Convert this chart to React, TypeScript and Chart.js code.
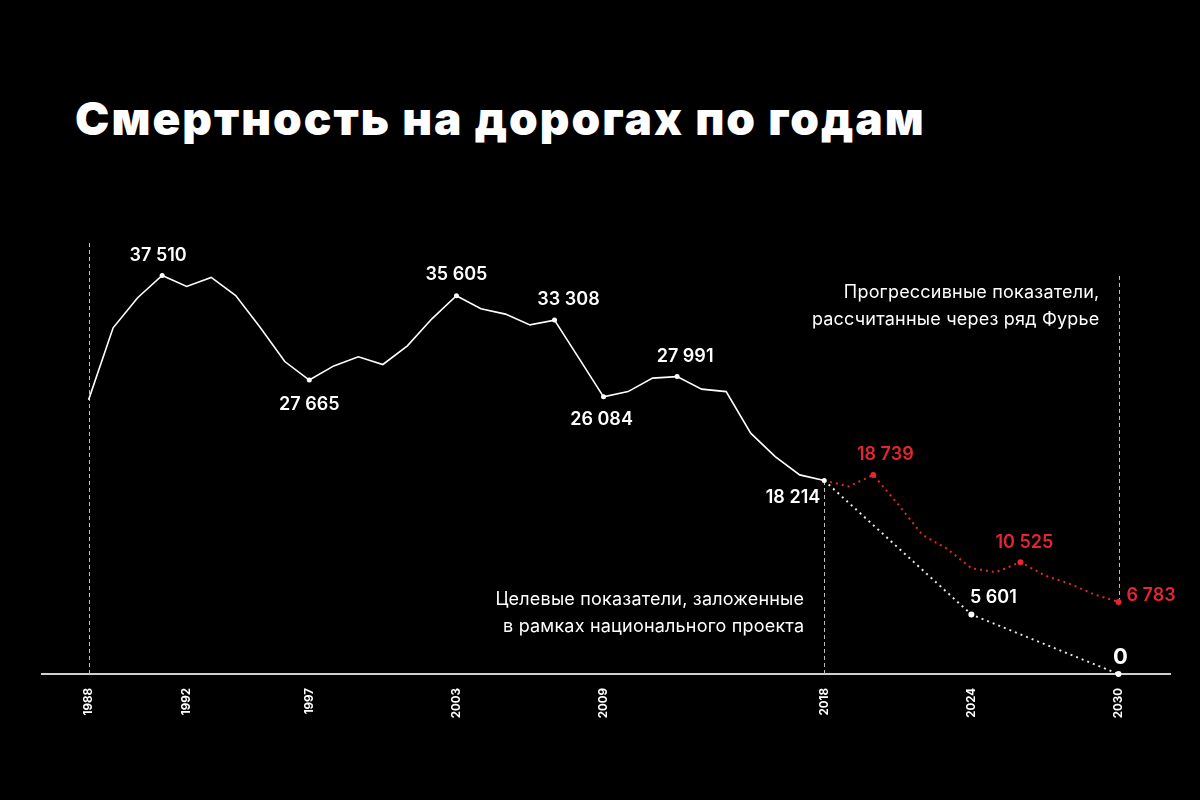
import { useEffect, useRef } from "react";
import Chart from "chart.js/auto";

// фактические данные, 1988–2018
const HIST_YEARS = [
  1988, 1989, 1990, 1991, 1992, 1993, 1994, 1995, 1996, 1997, 1998,
  1999, 2000, 2001, 2002, 2003, 2004, 2005, 2006, 2007, 2008, 2009,
  2010, 2011, 2012, 2013, 2014, 2015, 2016, 2017, 2018,
];
const HIST_DEATHS = [
  25800, 32580, 35410, 37510, 36470, 37320, 35620, 32610, 29410, 27665, 29000,
  29850, 29130, 30890, 33430, 35605, 34370, 33870, 32860, 33308, 29700, 26084,
  26580, 27850, 27991, 26810, 26580, 22670, 20460, 18740, 18214,
];
const HIST_MARKED = [1991, 1997, 2003, 2007, 2009, 2012, 2018];

// прогноз через ряд Фурье
const FOURIER_YEARS = [2018, 2019, 2020, 2021, 2022, 2023, 2024, 2025, 2026, 2027, 2028, 2029, 2030];
const FOURIER_DEATHS = [18214, 17650, 18739, 16000, 13100, 11800, 9960, 9580, 10525, 9270, 8500, 7500, 6783];
const FOURIER_MARKED = [2020, 2026, 2030];

// целевые показатели нацпроекта
const TARGET_YEARS = [2018, 2024, 2030];
const TARGET_DEATHS = [18214, 5601, 0];
const TARGET_MARKED = [2024, 2030];

const TICK_YEARS = [1988, 1992, 1997, 2003, 2009, 2018, 2024, 2030];

const GUIDE_YEARS = [1988, 2018, 2030];
const GUIDE_FROM = [0, 0, 6783];
const GUIDE_TO = [40800, 18214, 37600];

const TITLE = "Смертность на дорогах по годам";
const NOTE_FOURIER = ["Прогрессивные показатели,", "рассчитанные через ряд Фурье"];
const NOTE_TARGET = ["Целевые показатели, заложенные", "в рамках национального проекта"];

const WHITE = "#ffffff";
const RED = "#e3262f";
const FONT = "Inter, 'Noto Sans', sans-serif";

// подписи: набор, год, смещение и выравнивание
const LABELS = [
  { set: 0, year: 1991, dx: -4, dy: -20, align: "center" },
  { set: 0, year: 1997, dx: 0, dy: 25, align: "center" },
  { set: 0, year: 2003, dx: 0, dy: -21, align: "center" },
  { set: 0, year: 2007, dx: 14, dy: -21, align: "center" },
  { set: 0, year: 2009, dx: -2, dy: 23, align: "center" },
  { set: 0, year: 2012, dx: 8, dy: -20, align: "center" },
  { set: 0, year: 2018, dx: -4, dy: 17, align: "right" },
  { set: 1, year: 2020, dx: 12, dy: -20, align: "center" },
  { set: 1, year: 2026, dx: 4, dy: -20, align: "center" },
  { set: 1, year: 2030, dx: 8, dy: -6, align: "left" },
  { set: 2, year: 2024, dx: 22, dy: -17, align: "center" },
  { set: 2, year: 2030, dx: 2, dy: -17, align: "center", big: true },
] as const;

function fmt(v: number) {
  return String(v).replace(/\B(?=(\d{3})+(?!\d))/g, " ");
}

function pts(xs: number[], ys: number[]) {
  return xs.map((x, i) => ({ x, y: ys[i] }));
}

const overlay = {
  id: "overlay",
  beforeDatasetsDraw(chart: any) {
    const { ctx, scales } = chart;
    const xs = scales.x, ys = scales.y;
    ctx.save();
    ctx.strokeStyle = "#bdbdbd";
    ctx.lineWidth = 1;
    ctx.setLineDash([4, 3]);
    GUIDE_YEARS.forEach((yr, i) => {
      const x = Math.round(xs.getPixelForValue(yr)) + 0.5;
      ctx.beginPath();
      ctx.moveTo(x, ys.getPixelForValue(GUIDE_FROM[i]));
      ctx.lineTo(x, ys.getPixelForValue(GUIDE_TO[i]));
      ctx.stroke();
    });
    ctx.restore();
  },
  afterDatasetsDraw(chart: any) {
    const { ctx, scales } = chart;
    const xs = scales.x, ys = scales.y;
    ctx.save();
    ctx.textBaseline = "middle";
    LABELS.forEach((l: any) => {
      const ds = chart.data.datasets[l.set];
      const p = ds.data.find((d: any) => d.x === l.year);
      const x = xs.getPixelForValue(p.x), y = ys.getPixelForValue(p.y);
      ctx.fillStyle = l.set === 1 ? RED : WHITE;
      ctx.font = l.big ? `700 22px ${FONT}` : `600 18px ${FONT}`;
      ctx.textAlign = l.align;
      ctx.fillText(fmt(p.y), x + l.dx, y + l.dy);
    });
    ctx.font = `400 18px ${FONT}`;
    ctx.letterSpacing = "0.2px";
    ctx.fillStyle = WHITE;
    ctx.textAlign = "right";
    const xf = xs.getPixelForValue(2030) - 19;
    NOTE_FOURIER.forEach((t, i) => ctx.fillText(t, xf, 293 + i * 27));
    const xt = xs.getPixelForValue(2018) - 20;
    NOTE_TARGET.forEach((t, i) => ctx.fillText(t, xt, 600 + i * 27));
    ctx.restore();
  },
};

export default function App() {
  const canvasRef = useRef<HTMLCanvasElement | null>(null);

  useEffect(() => {
    if (!canvasRef.current) return;
    const chart = new Chart(canvasRef.current, {
      type: "line",
      data: {
        datasets: [
          {
            data: pts(HIST_YEARS, HIST_DEATHS),
            borderColor: WHITE,
            borderWidth: 1.6,
            pointRadius: HIST_YEARS.map((y) => (HIST_MARKED.includes(y) ? 2.5 : 0)),
            pointBackgroundColor: WHITE,
            pointBorderWidth: 0,
            clip: false,
          },
          {
            data: pts(FOURIER_YEARS, FOURIER_DEATHS),
            borderColor: RED,
            borderWidth: 2,
            borderDash: [2, 4],
            pointRadius: FOURIER_YEARS.map((y) => (FOURIER_MARKED.includes(y) ? 3 : 0)),
            pointBackgroundColor: RED,
            pointBorderWidth: 0,
            clip: false,
          },
          {
            data: pts(TARGET_YEARS, TARGET_DEATHS),
            borderColor: "#e8e8e8",
            borderWidth: 2,
            borderDash: [2, 4],
            pointRadius: TARGET_YEARS.map((y) => (TARGET_MARKED.includes(y) ? 3 : 0)),
            pointBackgroundColor: WHITE,
            pointBorderWidth: 0,
            clip: false,
          },
        ],
      },
      options: {
        animation: false,
        responsive: false,
        layout: { padding: { top: 249, left: 42, right: 30, bottom: 0 } },
        plugins: { legend: { display: false }, tooltip: { enabled: false } },
        scales: {
          x: {
            type: "linear",
            min: 1986.1,
            max: 2032.1,
            grid: { display: false, drawTicks: false },
            border: { color: "#cfcfcf", width: 2 },
            afterBuildTicks: (s: any) => { s.ticks = TICK_YEARS.map((v) => ({ value: v })); },
            afterFit: (s: any) => { s.height = 126; },
            ticks: {
              color: WHITE,
              autoSkip: false,
              maxRotation: 90,
              minRotation: 90,
              padding: 14,
              font: { family: FONT, size: 11.5, weight: "bold" },
              callback: (v: any) => String(v),
            },
          },
          y: { display: false, min: 0, max: 40000 },
        },
      },
      plugins: [overlay],
    });
    return () => chart.destroy();
  }, []);

  return (
    <div style={{ position: "fixed", left: 0, top: 0, width: 1200, height: 800, background: "#000", overflow: "hidden" }}>
      <div style={{ position: "absolute", left: 75, top: 95, font: `900 46px/1 ${FONT}`, letterSpacing: 2, color: WHITE, whiteSpace: "nowrap" }}>
        {TITLE}
      </div>
      <canvas ref={canvasRef} width={1200} height={800} style={{ position: "absolute", left: 0, top: 0 }} />
    </div>
  );
}
